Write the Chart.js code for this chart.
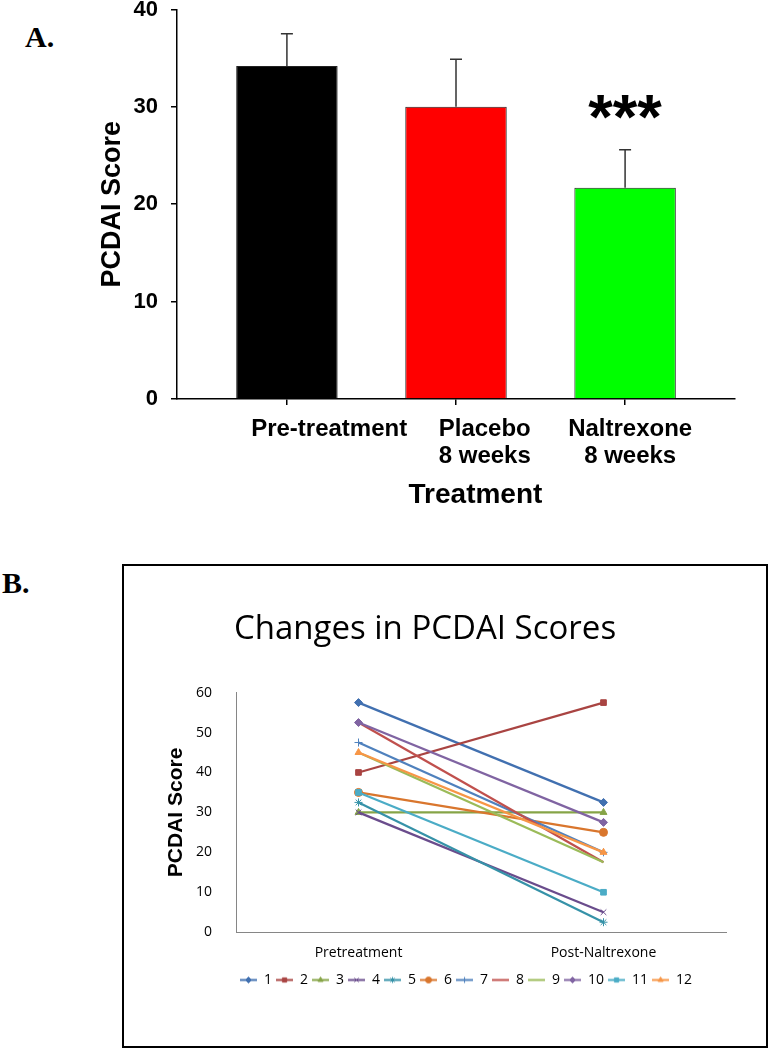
<!DOCTYPE html>
<html>
<head>
<meta charset="utf-8">
<title>PCDAI Scores</title>
<script src="https://cdn.jsdelivr.net/npm/chart.js@4"></script>
<style>
html, body { margin: 0; padding: 0; background: #fff; }
body { width: 769px; height: 1050px; position: relative; overflow: hidden; }
.panel-label { position: absolute; font: bold 30px "Liberation Serif", "Times New Roman", serif; line-height: 30px; color: #000; }
#boxA { position: absolute; left: 80px; top: -13px; width: 689px; height: 530px; }
#frameB { position: absolute; left: 122px; top: 564px; width: 642px; height: 480px; border: 2px solid #000; }
#boxB { position: absolute; left: 0; top: 0; width: 642px; height: 480px; }
</style>
</head>
<body>
<div class="panel-label" style="left:25px; top:22px;">A.</div>
<div class="panel-label" style="left:2px; top:568px;">B.</div>
<div id="boxA"><canvas id="barChart"></canvas></div>
<div id="frameB"><div id="boxB"><canvas id="lineChart"></canvas></div></div>

<script>
// Panel A data
const treatLabels = ['Pre-treatment', ['Placebo', '8 weeks'], ['Naltrexone', '8 weeks']];
const meanScores = [34.2, 30.0, 21.7];
const semScores = [3.3, 4.9, 3.9];
const sigMarks = ['', '', '***'];

// Panel B data
const timepoints = ['Pretreatment', 'Post-Naltrexone'];
const patientIds = ['1', '2', '3', '4', '5', '6', '7', '8', '9', '10', '11', '12'];
const preScores = [57.5, 40, 30, 30, 32.5, 35, 47.5, 52.5, 45, 52.5, 35, 45];
const postScores = [32.5, 57.5, 30, 5, 2.5, 25, 20, 17.5, 17.5, 27.5, 10, 20];

// Styles
const barColors = ['#000000', '#ff0000', '#00ff00'];
const lineColors = ['#4170b0', '#a94442', '#86a447', '#6a4c8c', '#3692a8', '#d9762d',
                    '#4f81bd', '#c0504d', '#9bbb59', '#8064a2', '#4bacc6', '#f79646'];
const markers = ['rectRot', 'rect', 'triangle', 'crossRot', 'star', 'circle',
                 'cross', false, false, 'rectRot', 'rect', 'triangle'];
const labelShift = [0.25, 0.17, 0.03]; // labels sit a bit right of their bars

const arial = '"Liberation Sans", Arial, sans-serif';
const calibri = '"Open Sans", sans-serif';

// Error bars + significance stars
const errorBars = {
    id: 'errorBars',
    afterDatasetsDraw(chart) {
        const ctx = chart.ctx;
        const yScale = chart.scales.y;
        const meta = chart.getDatasetMeta(0);
        ctx.save();
        ctx.strokeStyle = '#333';
        ctx.lineWidth = 1.5;
        meta.data.forEach((bar, i) => {
            const top = yScale.getPixelForValue(meanScores[i] + semScores[i]);
            ctx.beginPath();
            ctx.moveTo(bar.x, bar.y);
            ctx.lineTo(bar.x, top);
            ctx.moveTo(bar.x - 6, top);
            ctx.lineTo(bar.x + 6, top);
            ctx.stroke();
            if (sigMarks[i]) {
                ctx.fillStyle = '#000';
                ctx.font = 'bold 63px ' + arial;
                ctx.textAlign = 'center';
                ctx.textBaseline = 'alphabetic';
                ctx.fillText(sigMarks[i], bar.x, top - 12);
            }
        });
        ctx.restore();
    }
};

new Chart(document.getElementById('barChart'), {
    type: 'bar',
    data: {
        datasets: [{
            data: meanScores.map((v, i) => ({ x: i, y: v })),
            backgroundColor: barColors,
            borderColor: '#222',
            borderWidth: 1,
            categoryPercentage: 0.6,
            barPercentage: 1.0
        }]
    },
    options: {
        responsive: true,
        maintainAspectRatio: false,
        animation: false,
        layout: { padding: { left: 0, right: 34, top: 0, bottom: 0 } },
        plugins: { legend: { display: false }, tooltip: { enabled: false } },
        scales: {
            x: {
                type: 'linear',
                min: -0.65,
                max: 2.65,
                offset: false,
                afterBuildTicks: (scale) => { scale.ticks = treatLabels.map((_, i) => ({ value: i })); },
                afterFit: (scale) => { scale.height = 6; },
                ticks: { display: false },
                grid: { display: true, offset: false, drawOnChartArea: false, drawTicks: true, tickLength: 6, color: '#000', lineWidth: 1.5 },
                border: { display: true, color: '#000', width: 1.5 }
            },
            x2: {
                type: 'linear',
                position: 'bottom',
                min: -0.65,
                max: 2.65,
                offset: false,
                afterBuildTicks: (scale) => { scale.ticks = treatLabels.map((_, i) => ({ value: i + labelShift[i] })); },
                afterFit: (scale) => { scale.height = 112; },
                ticks: {
                    autoSkip: false,
                    maxRotation: 0,
                    padding: 3,
                    color: '#000',
                    font: { family: arial, size: 24, weight: 'bold', lineHeight: 1.12 },
                    callback: (value, index) => treatLabels[index]
                },
                grid: { display: false, offset: false },
                border: { display: false },
                title: {
                    display: true,
                    text: '     Treatment',
                    color: '#000',
                    font: { family: arial, size: 28, weight: 'bold' },
                    padding: { top: 10, bottom: 5 }
                }
            },
            y: {
                min: 0,
                max: 40,
                afterFit: (scale) => { scale.width = 97; },
                ticks: {
                    stepSize: 10,
                    padding: 13,
                    color: '#000',
                    font: { family: arial, size: 22, weight: 'bold', lineHeight: 0.86 }
                },
                grid: { display: true, drawOnChartArea: false, drawTicks: true, tickLength: 6, color: '#000', lineWidth: 1.5 },
                border: { display: true, color: '#000', width: 1.5 },
                title: {
                    display: true,
                    text: 'PCDAI Score',
                    color: '#000',
                    font: { family: arial, size: 27, weight: 'bold' },
                    padding: { top: 16, bottom: 0 }
                }
            }
        }
    },
    plugins: [errorBars]
});

// Legend swatches: short line with the series marker
function makeIcon(color, style) {
    const c = document.createElement('canvas');
    c.width = 17;
    c.height = 9;
    const g = c.getContext('2d');
    g.strokeStyle = color;
    g.fillStyle = color;
    g.lineWidth = 2;
    g.beginPath();
    g.moveTo(0, 4.5);
    g.lineTo(17, 4.5);
    g.stroke();
    if (style && Chart.helpers && Chart.helpers.drawPoint) {
        g.lineWidth = 1;
        Chart.helpers.drawPoint(g, { pointStyle: style, radius: 3, rotation: 0, borderWidth: 1 }, 8.5, 4.5);
    }
    return c;
}
const legendIcons = patientIds.map((_, i) => makeIcon(lineColors[i], markers[i]));

new Chart(document.getElementById('lineChart'), {
    type: 'line',
    data: {
        labels: timepoints,
        datasets: patientIds.map((id, i) => ({
            label: id,
            data: [preScores[i], postScores[i]],
            borderColor: lineColors[i],
            backgroundColor: lineColors[i],
            borderWidth: 2.25,
            pointStyle: markers[i],
            pointRadius: markers[i] ? 4 : 0,
            pointBorderWidth: 1,
            pointBorderColor: lineColors[i],
            pointBackgroundColor: lineColors[i],
            fill: false,
            tension: 0,
            order: patientIds.length - i
        }))
    },
    options: {
        responsive: true,
        maintainAspectRatio: false,
        animation: false,
        layout: { padding: { left: 0, right: 40, top: 0, bottom: 49 } },
        plugins: {
            tooltip: { enabled: false },
            title: {
                display: true,
                text: 'Changes in PCDAI Scores',
                color: '#000',
                font: { family: calibri, size: 33, weight: 'normal' },
                padding: { top: 44, bottom: 43 }
            },
            legend: {
                position: 'bottom',
                fullSize: false,
                align: 'start',
                labels: {
                    color: '#000',
                    font: { family: calibri, size: 14 },
                    usePointStyle: true,
                    pointStyleWidth: 17,
                    padding: 4,
                    sort: (a, b) => a.datasetIndex - b.datasetIndex,
                    generateLabels: (chart) => {
                        const items = Chart.defaults.plugins.legend.labels.generateLabels(chart);
                        items.forEach(item => { item.pointStyle = legendIcons[item.datasetIndex]; });
                        return items;
                    }
                }
            }
        },
        scales: {
            x: {
                offset: true,
                afterFit: (scale) => { scale.height += 4; },
                ticks: { padding: 4, color: '#000', font: { family: calibri, size: 14 } },
                grid: { display: false },
                border: { display: true, color: '#868686', width: 1 }
            },
            y: {
                min: 0,
                max: 60,
                afterFit: (scale) => { scale.width = 112; },
                ticks: { stepSize: 10, padding: 16, color: '#000', font: { family: calibri, size: 14 } },
                grid: { display: false },
                border: { display: true, color: '#868686', width: 1 },
                title: {
                    display: true,
                    text: 'PCDAI Score',
                    color: '#000',
                    font: { family: arial, size: 21, weight: 'bold' },
                    padding: { top: 40, bottom: 0 }
                }
            }
        }
    }
});
</script>
</body>
</html>
